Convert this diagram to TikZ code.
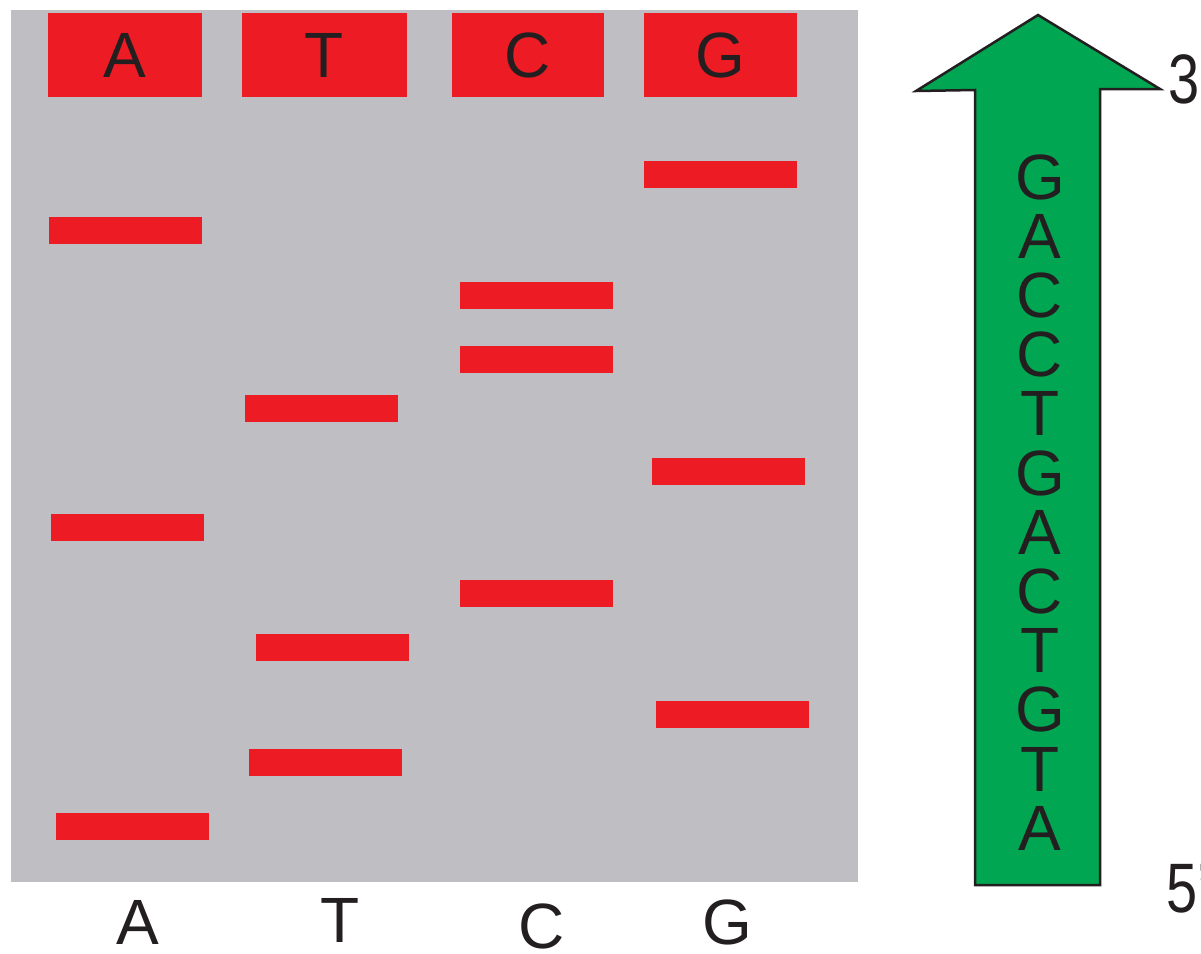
\documentclass[tikz,border=0pt]{standalone}
\usepackage{fontspec}
\setmainfont{Liberation Sans}
\definecolor{gelgray}{RGB}{191,191,195}
\definecolor{gelred}{RGB}{237,28,36}
\definecolor{arrowgreen}{RGB}{0,166,81}
\definecolor{inkdark}{RGB}{35,31,32}
\begin{document}
\begin{tikzpicture}[x=1pt,y=-1pt,
  band/.style={fill=gelred,inner sep=0pt,minimum width=153pt,minimum height=27pt},
  lanehead/.style={fill=gelred,inner sep=0pt,minimum width=#1,minimum height=84pt,
    text=inkdark,font=\fontsize{64}{64}\selectfont},
  biglabel/.style={inner sep=0pt,anchor=base,text=inkdark,font=\fontsize{64}{64}\selectfont},
  endlabel/.style={inner sep=0pt,anchor=base west,text=inkdark,
    font=\fontsize{70}{70}\selectfont,xscale=0.8,transform shape},
  seqarrow/.style={fill=arrowgreen,draw=inkdark,line width=2.5pt,line join=miter}]
\useasboundingbox (0,0) rectangle (1201,953);
% gel
\fill[gelgray] (11,10) rectangle (858,882);
% lane headers
\node[lanehead=154pt] (hA) at (125,55) {A};
\node[lanehead=165pt] (hT) at (324.5,55) {T};
\node[lanehead=152pt] (hC) at (528,55) {C};
\node[lanehead=153pt] (hG) at (720.5,55) {G};
% bands
\node[band] (a1) at (125,230) {};
\node[band] (a2) at (127.5,527) {};
\node[band] (a3) at (132,826.5) {};
\node[band] (t1) at (321.5,408) {};
\node[band] (t2) at (332,647.5) {};
\node[band] (t3) at (325.5,762.5) {};
\node[band] (c1) at (536.5,295) {};
\node[band] (c2) at (536.5,359.5) {};
\node[band] (c3) at (536.5,593.5) {};
\node[band] (g1) at (720,174.5) {};
\node[band] (g2) at (728.5,471.5) {};
\node[band] (g3) at (732.5,714.5) {};
% lane labels below
\node[biglabel] (lA) at (138,944) {A};
\node[biglabel] (lT) at (340,942) {T};
\node[biglabel] (lC) at (542,948) {C};
\node[biglabel] (lG) at (727,944) {G};
% arrow
\draw[seqarrow] (975,885) -- (975,90) -- (916,91) -- (1038,15) -- (1160,89)
  -- (1100,89) -- (1100,885) -- cycle;
\foreach \ch [count=\i] in {G,A,C,C,T,G,A,C,T,G,T,A}{
  \node[biglabel] (s\i) at (1040,{199+(\i-1)*59.2}) {\ch};
}
\node[endlabel] (three) at (1168,103) {3’};
\node[endlabel] (five) at (1166,912) {5’};
\end{tikzpicture}
\end{document}
